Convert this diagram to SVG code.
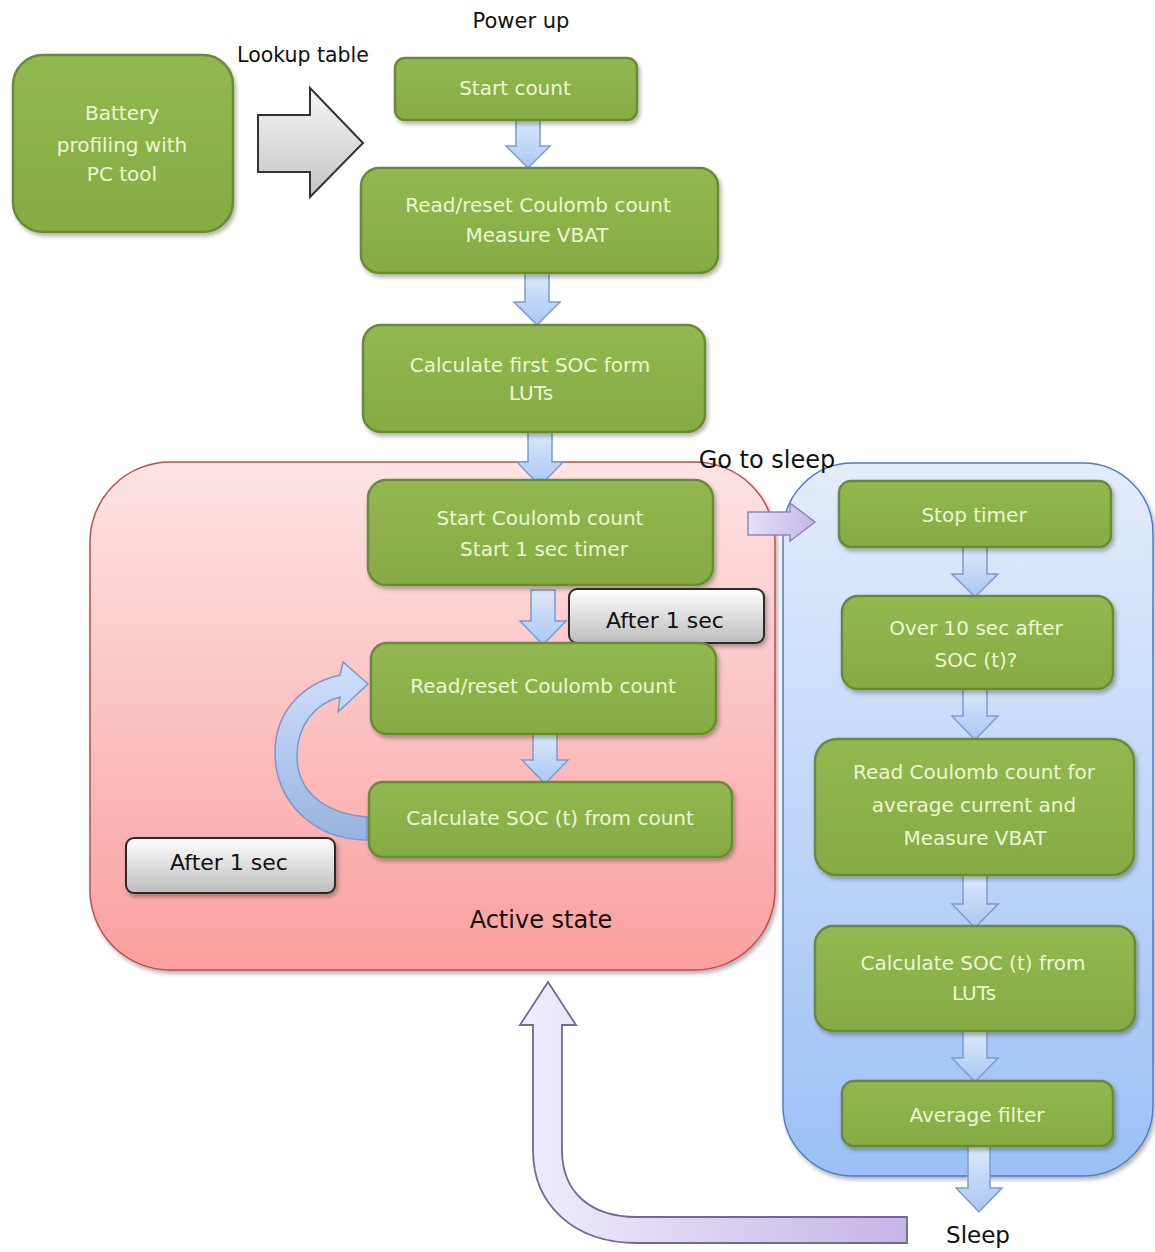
<svg xmlns="http://www.w3.org/2000/svg" width="1155" height="1252" viewBox="0 0 1155 1252">
<defs>
<style>
.box{fill:url(#gGreen);stroke:#6b8a35;stroke-width:2.5}
.bt{font-family:"DejaVu Sans",sans-serif;font-size:20px;fill:#eef6d2;text-anchor:middle}
.lbl{font-family:"DejaVu Sans",sans-serif;fill:#111;text-anchor:middle}
.gray{fill:url(#gGray);stroke:#2a2a2a;stroke-width:2}
.barr{fill:url(#gBlueArr);stroke:#7d9ccc;stroke-width:1.5}
.parr{fill:url(#gPurpV);stroke:#8f86b8;stroke-width:1.5}
</style>
<linearGradient id="gGreen" x1="0" y1="0" x2="0" y2="1"><stop offset="0" stop-color="#92b850"/><stop offset="1" stop-color="#86ab44"/></linearGradient>
<linearGradient id="gGray" x1="0" y1="0" x2="0" y2="1"><stop offset="0" stop-color="#ffffff"/><stop offset="1" stop-color="#bdbdbd"/></linearGradient>
<linearGradient id="gGrayArr" x1="0" y1="0" x2="0" y2="1"><stop offset="0" stop-color="#f6f6f6"/><stop offset="1" stop-color="#c4c4c4"/></linearGradient>
<linearGradient id="gBlueArr" x1="0" y1="0" x2="0" y2="1"><stop offset="0" stop-color="#dce9fb"/><stop offset="1" stop-color="#a9c6f2"/></linearGradient>
<linearGradient id="gCurve" x1="0" y1="0" x2="0" y2="1"><stop offset="0" stop-color="#cfe0fb"/><stop offset="1" stop-color="#98b3e0"/></linearGradient>
<linearGradient id="gPurpV" x1="0" y1="0" x2="1" y2="0"><stop offset="0" stop-color="#e6e0f7"/><stop offset="1" stop-color="#c4b6e8"/></linearGradient>
<linearGradient id="gRet" x1="0" y1="0" x2="1" y2="0"><stop offset="0" stop-color="#f0edfb"/><stop offset="1" stop-color="#c7b4e8"/></linearGradient>
<linearGradient id="gRed" x1="0" y1="0" x2="0" y2="1"><stop offset="0" stop-color="#fde4e4"/><stop offset="1" stop-color="#fb9f9f"/></linearGradient>
<linearGradient id="gBlue" x1="0" y1="0" x2="0" y2="1"><stop offset="0" stop-color="#e3ecfb"/><stop offset="1" stop-color="#9cc0f6"/></linearGradient>
<filter id="sh" x="-10%" y="-10%" width="120%" height="130%"><feDropShadow dx="2" dy="3" stdDeviation="2" flood-color="#000" flood-opacity="0.3"/></filter>
</defs>
<rect width="1155" height="1252" fill="#ffffff"/>

<g id="panel-active">
<rect x="90" y="462" width="685" height="508" rx="80" fill="url(#gRed)" stroke="#b9504e" stroke-width="1.5" filter="url(#sh)"/>
<text class="lbl" x="541" y="928" font-size="24">Active state</text>
</g>
<g id="panel-sleep">
<rect x="783" y="463" width="370" height="713" rx="70" fill="url(#gBlue)" stroke="#4f7fbf" stroke-width="1.5" filter="url(#sh)"/>
</g>

<g id="connectors">
<path id="lookup-arrow" d="M258,115 L310,115 L310,88 L363,143 L310,197 L310,172 L258,172 Z" fill="url(#gGrayArr)" stroke="#333" stroke-width="2"/>
<path class="barr" d="M516,120 L540,120 L540,146 L550,146 L528,168 L506,146 L516,146 Z"/>
<path class="barr" d="M525,273 L549,273 L549,302 L560,302 L537,325 L514,302 L525,302 Z"/>
<path class="barr" d="M528,432 L552,432 L552,462 L563,462 L540,486 L517,462 L528,462 Z"/>
<path class="barr" d="M531,590 L555,590 L555,621 L566,621 L543,645 L520,621 L531,621 Z"/>
<path class="barr" d="M533,734 L557,734 L557,760 L568,760 L545,784 L522,760 L533,760 Z"/>
<path id="loop-arrow" d="M367,817 C322,813 297,790 297,756 C297,726 314,704 340,697 L338,712 L368,684 L343,662 L340,675 C301,684 275,713 275,752 C275,802 314,840 367,840 Z" fill="url(#gCurve)" stroke="#7b98c8" stroke-width="1.5"/>
<path class="parr" d="M748,512 L790,512 L790,503 L815,522 L790,541 L790,535 L748,535 Z"/>
<path class="barr" d="M963,547 L987,547 L987,574 L998,574 L975,597 L952,574 L963,574 Z"/>
<path class="barr" d="M963,689 L987,689 L987,716 L998,716 L975,740 L952,716 L963,716 Z"/>
<path class="barr" d="M963,875 L987,875 L987,904 L998,904 L975,928 L952,904 L963,904 Z"/>
<path class="barr" d="M963,1031 L987,1031 L987,1058 L998,1058 L975,1082 L952,1058 L963,1058 Z"/>
<path class="barr" d="M968,1146 L990,1146 L990,1188 L1002,1188 L979,1212 L956,1188 L968,1188 Z"/>
<path id="return-arrow" d="M548,982 L576,1025 L562,1025 L562,1150 C562,1192 590,1217 637,1217 L907,1217 L907,1243 L637,1243 C574,1243 533,1205 533,1150 L533,1025 L520,1025 Z" fill="url(#gRet)" stroke="#6e6a94" stroke-width="1.8"/>
</g>

<g id="labels">
<text class="lbl" x="521" y="28" font-size="21">Power up</text>
<text class="lbl" x="303" y="62" font-size="20.5">Lookup table</text>
<text class="lbl" x="767" y="468" font-size="24">Go to sleep</text>
<text class="lbl" x="978" y="1243" font-size="23">Sleep</text>
</g>

<g id="n-battery"><rect class="box" x="13" y="55" width="220" height="177" rx="30" filter="url(#sh)"/>
<text class="bt" x="122" y="120">Battery</text><text class="bt" x="122" y="152">profiling with</text><text class="bt" x="122" y="181">PC tool</text></g>

<g id="n-startcount"><rect class="box" x="395" y="58" width="242" height="62" rx="10" filter="url(#sh)"/>
<text class="bt" x="515" y="95">Start count</text></g>

<g id="n-readreset1"><rect class="box" x="361" y="168" width="357" height="105" rx="18" filter="url(#sh)"/>
<text class="bt" x="538" y="212">Read/reset Coulomb count</text><text class="bt" x="537" y="242">Measure VBAT</text></g>

<g id="n-calcfirst"><rect class="box" x="363" y="325" width="342" height="107" rx="18" filter="url(#sh)"/>
<text class="bt" x="530" y="372">Calculate first SOC form</text><text class="bt" x="531" y="400">LUTs</text></g>

<g id="n-startcc"><rect class="box" x="368" y="480" width="345" height="105" rx="18" filter="url(#sh)"/>
<text class="bt" x="540" y="525">Start Coulomb count</text><text class="bt" x="544" y="556">Start 1 sec timer</text></g>

<g id="n-after1"><rect class="gray" x="569" y="589" width="195" height="54" rx="8" filter="url(#sh)"/>
<text class="lbl" x="665" y="628" font-size="22">After 1 sec</text></g>

<g id="n-readreset2"><rect class="box" x="371" y="643" width="345" height="91" rx="16" filter="url(#sh)"/>
<text class="bt" x="543" y="693">Read/reset Coulomb count</text></g>

<g id="n-calcsoc"><rect class="box" x="369" y="782" width="363" height="75" rx="14" filter="url(#sh)"/>
<text class="bt" x="550" y="825">Calculate SOC (t) from count</text></g>

<g id="n-after2"><rect class="gray" x="126" y="838" width="209" height="55" rx="8" filter="url(#sh)"/>
<text class="lbl" x="229" y="870" font-size="22">After 1 sec</text></g>

<g id="n-stoptimer"><rect class="box" x="839" y="481" width="272" height="66" rx="12" filter="url(#sh)"/>
<text class="bt" x="974" y="522">Stop timer</text></g>

<g id="n-over10"><rect class="box" x="842" y="596" width="271" height="93" rx="16" filter="url(#sh)"/>
<text class="bt" x="976" y="635">Over 10 sec after</text><text class="bt" x="976" y="667">SOC (t)?</text></g>

<g id="n-readcc"><rect class="box" x="815" y="739" width="319" height="136" rx="22" filter="url(#sh)"/>
<text class="bt" x="974" y="779">Read Coulomb count for</text><text class="bt" x="974" y="812">average current and</text><text class="bt" x="975" y="845">Measure VBAT</text></g>

<g id="n-calcluts"><rect class="box" x="815" y="926" width="320" height="105" rx="18" filter="url(#sh)"/>
<text class="bt" x="973" y="970">Calculate SOC (t) from</text><text class="bt" x="974" y="1000">LUTs</text></g>

<g id="n-avg"><rect class="box" x="842" y="1081" width="271" height="65" rx="12" filter="url(#sh)"/>
<text class="bt" x="977" y="1122">Average filter</text></g>
</svg>
